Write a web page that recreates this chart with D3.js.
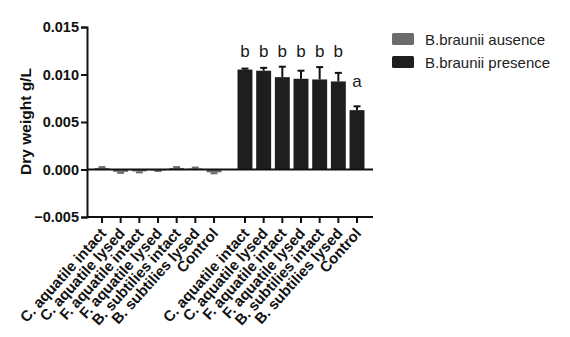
<!DOCTYPE html>
<html>
<head>
<meta charset="utf-8">
<script src="https://cdn.jsdelivr.net/npm/d3@7"></script>
<style>
  body { margin: 0; background: #fff; }
  svg { display: block; font-family: "Liberation Sans", Arial, sans-serif; }
</style>
</head>
<body>
<svg id="chart" width="570" height="337"></svg>
<script>
const categories = ["C. aquatile intact", "C. aquatile lysed", "F. aquatile  intact", "F. aquatile  lysed", "B. subtilies intact", "B. subtilies lysed", "Control"];
const absenceValues = [0.00015, -0.00025, -0.0002, -0.0001, 0.00015, 0.0001, -0.0003];
const absenceErrors = [0.0001, 0.0001, 0.0001, 0.00005, 0.0001, 0.0001, 0.0001];
const presenceValues = [0.01052, 0.0104, 0.00972, 0.00955, 0.00948, 0.00927, 0.00625];
const presenceErrors = [0.0001, 0.0003, 0.0011, 0.00085, 0.0013, 0.0009, 0.0004];
const presenceLetters = ["b", "b", "b", "b", "b", "b", "a"];
const letterLevels = [0.0118, 0.0118, 0.0118, 0.0118, 0.0118, 0.0118, 0.00868];
const yTicks = [-0.005, 0.000, 0.005, 0.010, 0.015];
const seriesNames = ["B.braunii ausence", "B.braunii presence"];
const seriesColors = ["#6b6b6b", "#1e1e1e"];

const svg = d3.select("#chart");
const axisX0 = 87, axisX1 = 373;
const y = d3.scaleLinear().domain([-0.005, 0.015]).range([217, 27]);

const x1 = d3.scaleBand().domain(categories).range([92.65, 223.35]).paddingInner(0.2).paddingOuter(0.1);
const x2 = d3.scaleBand().domain(categories).range([235.65, 366.35]).paddingInner(0.2).paddingOuter(0.1);

const groups = [
  {scale: x1, values: absenceValues, errors: absenceErrors, color: seriesColors[0], up: false},
  {scale: x2, values: presenceValues, errors: presenceErrors, color: seriesColors[1], up: true}
];

groups.forEach(g => {
  const gg = svg.append("g");
  categories.forEach((c, i) => {
    const v = g.values[i], e = g.errors[i];
    const bx = g.scale(c), bw = g.scale.bandwidth(), cx = bx + bw / 2;
    const top = y(Math.max(0, v)), bot = y(Math.min(0, v));
    gg.append("rect").attr("x", bx).attr("y", top).attr("width", bw)
      .attr("height", Math.max(0.8, bot - top)).attr("fill", g.color);
    const ev = v >= 0 ? v + e : v - e;
    gg.append("line").attr("x1", cx).attr("x2", cx).attr("y1", y(v)).attr("y2", y(ev))
      .attr("stroke", g.up ? "#111" : g.color).attr("stroke-width", 2);
    gg.append("line").attr("x1", cx - 3.5).attr("x2", cx + 3.5).attr("y1", y(ev)).attr("y2", y(ev))
      .attr("stroke", g.up ? "#111" : g.color).attr("stroke-width", 2);
  });
});

// letters
svg.append("g").selectAll("text").data(categories).join("text")
  .attr("x", d => x2(d) + x2.bandwidth() / 2)
  .attr("y", (d, i) => y(letterLevels[i]))
  .attr("text-anchor", "middle")
  .attr("font-size", 17).attr("fill", "#1a1a1a")
  .text((d, i) => presenceLetters[i]);

// zero line
svg.append("line").attr("x1", axisX0).attr("x2", axisX1).attr("y1", y(0)).attr("y2", y(0))
  .attr("stroke", "#111").attr("stroke-width", 2);

// y axis
const yAxis = d3.axisLeft(y).tickValues(yTicks).tickFormat(d3.format(".3f")).tickSize(6).tickPadding(2);
const yg = svg.append("g").attr("transform", `translate(${axisX0},0)`).call(yAxis);
yg.select(".domain").attr("stroke", "#111").attr("stroke-width", 2);
yg.selectAll(".tick line").attr("stroke", "#111").attr("stroke-width", 2);
yg.selectAll(".tick text").attr("font-size", 14.5).attr("font-weight", "bold").attr("fill", "#111")
  .attr("font-family", "Liberation Sans, Arial, sans-serif");

// x axis
const xg = svg.append("g");
xg.append("line").attr("x1", axisX0).attr("x2", axisX1).attr("y1", 217).attr("y2", 217)
  .attr("stroke", "#111").attr("stroke-width", 2);
[x1, x2].forEach(sc => {
  const ag = xg.append("g").attr("transform", "translate(0,217)")
    .call(d3.axisBottom(sc).tickSize(6).tickSizeOuter(0).tickPadding(3));
  ag.select(".domain").remove();
  ag.selectAll(".tick line").attr("stroke", "#111").attr("stroke-width", 2);
  ag.selectAll(".tick text")
    .attr("font-size", 15).attr("font-weight", "bold").attr("fill", "#111")
    .attr("font-family", "Liberation Sans, Arial, sans-serif")
    .attr("text-anchor", "end")
    .attr("dy", "0")
    .attr("transform", "translate(5,17) rotate(-48)")
    .attr("y", 0).attr("x", 0);
});

// y label
svg.append("text").attr("transform", `translate(31,121.5) rotate(-90)`)
  .attr("text-anchor", "middle").attr("font-size", 15.5).attr("font-weight", "bold").attr("fill", "#111")
  .text("Dry weight g/L");

// legend
const lg = svg.append("g");
seriesNames.forEach((n, i) => {
  lg.append("rect").attr("x", 392).attr("y", 33 + i * 23).attr("width", 22).attr("height", 12)
    .attr("rx", 1.5).attr("fill", seriesColors[i]);
  lg.append("text").attr("x", 425).attr("y", 45 + i * 22.5).attr("font-size", 15).attr("fill", "#222")
    .text(n);
});
</script>
</body>
</html>
